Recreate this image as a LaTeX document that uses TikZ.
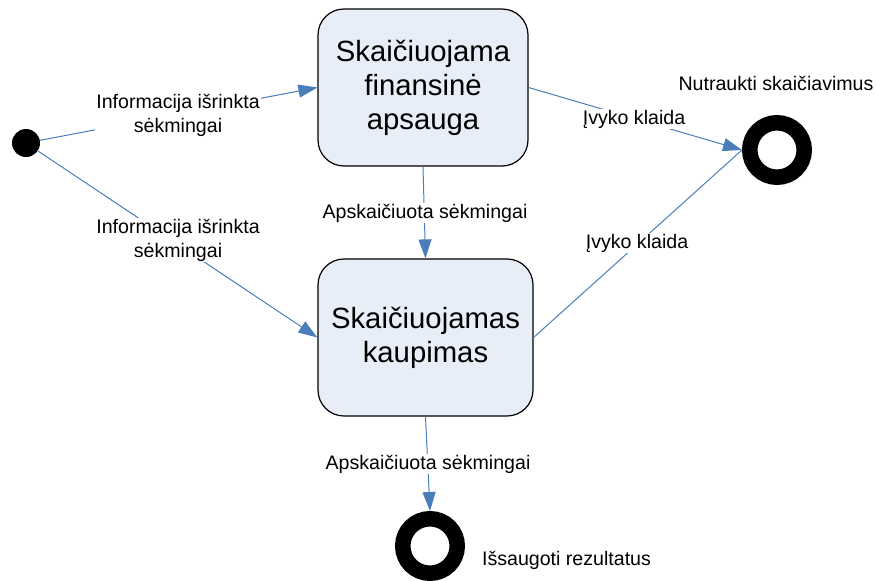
\documentclass[tikz,border=0pt]{standalone}
\usepackage{fontspec}
\setmainfont{Liberation Sans}
\usetikzlibrary{arrows.meta}
\definecolor{edgeblue}{RGB}{74,126,187}
\definecolor{boxfill}{RGB}{232,238,247}
\begin{document}
\begin{tikzpicture}[x=1pt,y=-1pt,
  statebox/.style={draw=black, line width=1.2pt, fill=boxfill, rounded corners=26pt, align=center, inner sep=0pt,
    font=\fontsize{29.3}{34}\selectfont},
  initnode/.style={circle, fill=black, minimum size=28pt, inner sep=0pt},
  endnode/.style={circle, draw=black, line width=15.5pt, minimum size=54.5pt, inner sep=0pt, outer sep=7.75pt},
  edge/.style={draw=edgeblue, line width=1pt},
  arr/.style={edge, -{Triangle[length=19pt,width=13pt]}},
  lbl/.style={fill=white, align=center, inner sep=1pt, font=\fontsize{19.6}{24}\selectfont},
  note/.style={align=center, inner sep=0pt, font=\fontsize{19.6}{24}\selectfont}]
\useasboundingbox (0,0) rectangle (876,581);
\node[initnode] (init) at (26,143) {};
\node[statebox, minimum width=210pt, minimum height=157pt] (b1) at (423,87.5) {Skaičiuojama\\finansinė\\apsauga};
\node[statebox, minimum width=215pt, minimum height=157pt] (b2) at (425.5,337.5) {Skaičiuojamas\\kaupimas};
\node[endnode] (e1) at (777,150) {};
\node[endnode] (e2) at (430,546) {};
\node[note] (n1) at (776,83) {Nutraukti skaičiavimus};
\node[note] (n2) at (566.5,560) {Išsaugoti rezultatus};

\draw[arr] (init) -- (b1.west);
\draw[arr] (init) -- (b2.west);
\draw[arr] (b1.south) -- (b2.north);
\draw[arr] (b1.east) -- (e1.west);
\draw[edge] (b2.east) -- (e1.west);
\draw[arr] (b2.south) -- (e2.north);

\node[lbl] (l1) at (178,115) {Informacija išrinkta\\sėkmingai};
\node[lbl] (l2) at (178,240) {Informacija išrinkta\\sėkmingai};
\node[lbl] (l3) at (425,213) {Apskaičiuota sėkmingai};
\node[lbl] (l4) at (634,119) {Įvyko klaida};
\node[lbl] (l5) at (637,243) {Įvyko klaida};
\node[lbl] (l6) at (428,464) {Apskaičiuota sėkmingai};
\end{tikzpicture}
\end{document}
